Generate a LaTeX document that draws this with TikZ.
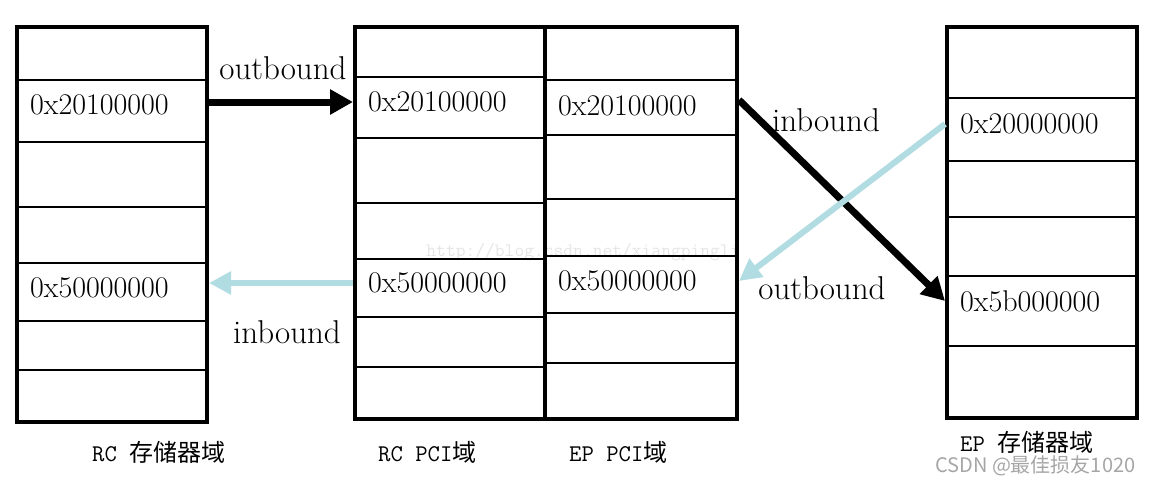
\documentclass[tikz,border=0pt]{standalone}
\usepackage{fontspec}
\newfontfamily\cjk{Noto Sans CJK SC}
\usetikzlibrary{arrows.meta}
\definecolor{inblue}{RGB}{176,220,226}
\newcommand{\addrfont}{\fontsize{30}{34}\selectfont}
\newcommand{\dirfont}{\fontsize{33}{37}\selectfont}
\newcommand{\capfont}{\fontsize{24}{28}\selectfont}

\begin{document}
\begin{tikzpicture}[x=1pt, y=-1pt,
    frame/.style={draw, line width=4pt, inner sep=0pt, minimum width=190pt},
    row/.style={line width=1.5pt},
    addr/.style={anchor=west, inner sep=0pt, font=\addrfont},
    dir/.style={inner sep=0pt, font=\dirfont},
    caption/.style={anchor=west, inner sep=0pt, text height=20pt, text depth=2pt, font=\capfont\ttfamily},
    fwd/.style={-{Triangle[length=23pt,width=24pt]}, line width=7pt},
    back/.style={-{Triangle[length=22pt,width=22pt]}, line width=6pt, draw=inblue}
  ]
  \useasboundingbox (0,0) rectangle (1150,482);

  \node[inner sep=0pt, font=\fontsize{19}{22}\selectfont\ttfamily, text=black!10] (wm) at (583,252) {http://blog.csdn.net/xiangpingli};

  \foreach \y in {80,142,207,263,321,370} \draw[row] (17,\y) -- (207,\y);
  \foreach \y in {77,138,203,259,317,367} \draw[row] (355,\y) -- (545,\y);
  \foreach \y in {80,135,199,256,313,363} \draw[row] (545,\y) -- (737,\y);
  \foreach \y in {98,161,217,276,346} \draw[row] (947,\y) -- (1137,\y);

  \node[frame, minimum height=395pt] (rcmem) at (112,224.5) {};
  \node[frame, minimum height=392pt] (rcpci) at (450,223) {};
  \node[frame, minimum width=192pt, minimum height=392pt] (eppci) at (641,223) {};
  \node[frame, minimum height=391pt] (epmem) at (1042,222.5) {};

  \node[addr] (m20) at (30,105) {0x20100000};
  \node[addr] (m50) at (30,288) {0x50000000};
  \node[addr] (p20) at (368,102) {0x20100000};
  \node[addr] (p50) at (368,283) {0x50000000};
  \node[addr] (e20) at (558,106) {0x20100000};
  \node[addr] (e50) at (558,281) {0x50000000};
  \node[addr] (d20) at (960,124) {0x20000000};
  \node[addr] (d5b) at (960,301) {0x5b000000};

  \node[dir] (ob1) at (283,68) {outbound};
  \node[dir] (ib1) at (287,332) {inbound};
  \node[dir] (ib2) at (826,120) {inbound};
  \node[dir] (ob2) at (822,288) {outbound};

  \draw[fwd] (rcmem.east |- p20) -- (rcpci.west |- p20);
  \draw[back] (rcpci.west |- p50) -- (rcmem.east |- p50);
  \draw[fwd] ([yshift=6pt]eppci.east |- e20) -- (epmem.west |- d5b);
  \draw[back] (epmem.west |- d20) -- (eppci.east |- e50);

  \node[caption] (c1) at (92,452) {RC {\cjk 存储器域}};
  \node[caption] (c2) at (378,452) {RC PCI{\cjk 域}};
  \node[caption] (c3) at (569,452) {EP PCI{\cjk 域}};
  \node[caption] (c4) at (960,442) {EP {\cjk 存储器域}};
  \node[anchor=west, inner sep=0pt, text height=16pt, text depth=2pt, font=\fontsize{20}{23}\selectfont\cjk, text=black!35] (csdn) at (935,465) {CSDN @最佳损友1020};
\end{tikzpicture}
\end{document}
